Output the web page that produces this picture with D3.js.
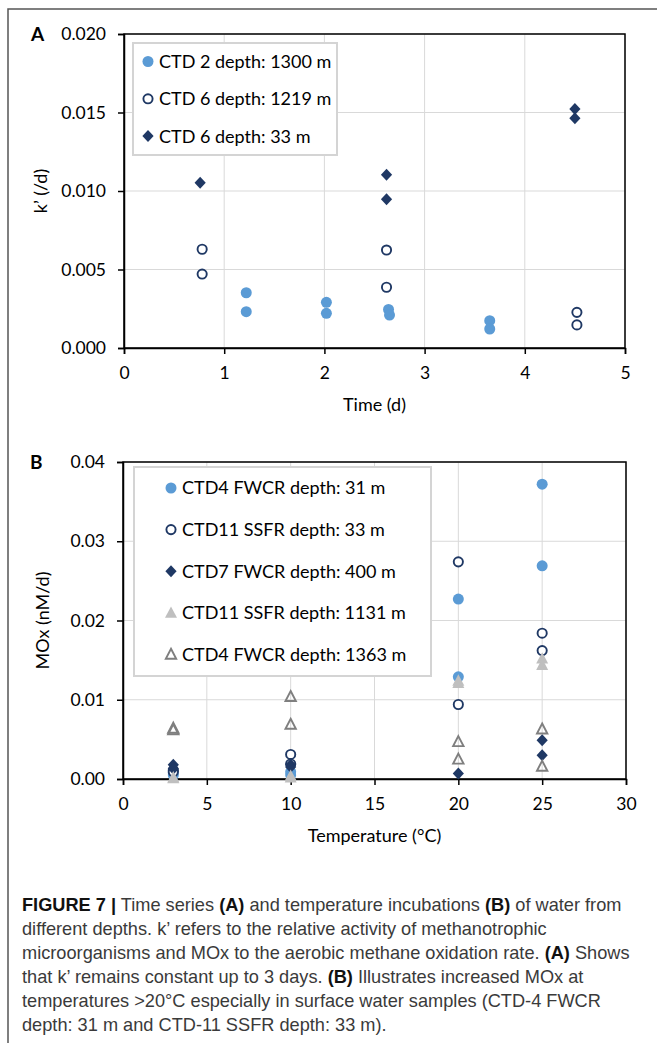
<!DOCTYPE html>
<html>
<head>
<meta charset="utf-8">
<script src="https://cdn.jsdelivr.net/npm/d3@7"></script>
<style>
  body { margin: 0; background: #fff; }
  svg text { font-family: Lato, "Open Sans", sans-serif; }
  .grid line { stroke: #d9d9d9; stroke-width: 1; }
  .axis path, .axis line { stroke: #000; }
  .axis text { font-size: 17.5px; fill: #000; }
  .cap { font-family: "Liberation Sans", Arial, sans-serif !important; font-size: 18.2px; fill: #3a3a3a; }
</style>
</head>
<body>
<svg id="fig" width="657" height="1043"></svg>
<script>
// panel A: time series (k')
var seriesA = ["CTD 2 depth: 1300 m", "CTD 6 depth: 1219 m", "CTD 6 depth: 33 m"];
var timeA1 = [1.22, 1.22, 2.02, 2.02, 2.64, 2.65, 3.65, 3.65];
var kA1    = [0.00352, 0.00231, 0.00291, 0.00221, 0.00246, 0.00210, 0.00174, 0.00121];
var timeA2 = [0.78, 0.78, 2.62, 2.62, 4.52, 4.52];
var kA2    = [0.00629, 0.00471, 0.00624, 0.00387, 0.00227, 0.00147];
var timeA3 = [0.76, 2.62, 2.62, 4.50, 4.50];
var kA3    = [0.01053, 0.01104, 0.00947, 0.01522, 0.01463];
var xTicksA = [0, 1, 2, 3, 4, 5];
var yTicksA = [0, 0.005, 0.010, 0.015, 0.020];

// panel B: temperature incubations (MOx)
var seriesB = ["CTD4 FWCR depth: 31 m", "CTD11 SSFR depth: 33 m", "CTD7 FWCR depth: 400 m",
               "CTD11 SSFR depth: 1131 m", "CTD4 FWCR depth: 1363 m"];
var tempB1 = [3, 3, 10, 10, 20, 20, 25, 25];
var moxB1  = [0.0005, 0.0008, 0.0005, 0.0009, 0.0227, 0.0129, 0.0372, 0.0269];
var tempB2 = [3, 3, 10, 10, 20, 20, 25, 25];
var moxB2  = [0.0011, 0.0009, 0.0031, 0.0019, 0.0274, 0.0094, 0.0184, 0.0162];
var tempB3 = [3, 3, 10, 10, 20, 25, 25];
var moxB3  = [0.0018, 0.0013, 0.0018, 0.0015, 0.0007, 0.0049, 0.0030];
var tempB4 = [3, 3, 10, 10, 20, 20, 25, 25];
var moxB4  = [0.0002, 0.0001, 0.0004, 0.0002, 0.0124, 0.0121, 0.0152, 0.0144];
var tempB5 = [3, 3, 10, 10, 20, 20, 25, 25];
var moxB5  = [0.0064, 0.0062, 0.0104, 0.0069, 0.0047, 0.0025, 0.0063, 0.0016];
var xTicksB = [0, 5, 10, 15, 20, 25, 30];
var yTicksB = [0, 0.01, 0.02, 0.03, 0.04];

var lightBlue = "#5b9bd5", navy = "#1f3864", ltGrey = "#bfbfbf", grey = "#7f7f7f";

var styleA = [
  { shape: "circle", fill: lightBlue, stroke: "none" },
  { shape: "circle", fill: "#fff", stroke: navy },
  { shape: "diamond", fill: navy, stroke: "none" }
];
var styleB = [
  { shape: "circle", fill: lightBlue, stroke: "none" },
  { shape: "circle", fill: "#fff", stroke: navy },
  { shape: "diamond", fill: navy, stroke: "none" },
  { shape: "triangle", fill: ltGrey, stroke: "none" },
  { shape: "triangle", fill: "none", stroke: grey }
];

function markerPath(shape, open) {
  if (shape == "diamond") return "M0,-6L5.6,0L0,6L-5.6,0Z";
  if (shape == "triangle") return open ? "M0,-5.6L5.2,4.4L-5.2,4.4Z" : "M0,-6.4L6,5L-6,5Z";
  var r = open ? 4.6 : 5.5;
  return "M" + r + ",0A" + r + "," + r + " 0 1,1 -" + r + ",0A" + r + "," + r + " 0 1,1 " + r + ",0Z";
}
function markerAttrs(sel, st) {
  var open = st.stroke != "none";
  sel.attr("d", markerPath(st.shape, open))
    .attr("fill", st.fill)
    .attr("stroke", st.stroke)
    .attr("stroke-width", open ? 1.9 : 0);
}

var svg = d3.select("#fig");

// outer frame
svg.append("path").attr("d", "M8,1043V9H657")
  .attr("fill", "none").attr("stroke", "#555").attr("stroke-width", 1.5);

function panel(opt) {
  var x = d3.scaleLinear().domain(opt.xDomain).range([opt.left, opt.right]);
  var y = d3.scaleLinear().domain(opt.yDomain).range([opt.bottom, opt.top]);
  var g = svg.append("g");

  var grid = g.append("g").attr("class", "grid");
  grid.selectAll(".gx").data(opt.xTicks).enter().append("line")
    .attr("x1", x).attr("x2", x).attr("y1", opt.top).attr("y2", opt.bottom);
  grid.selectAll(".gy").data(opt.yTicks).enter().append("line")
    .attr("x1", opt.left).attr("x2", opt.right).attr("y1", y).attr("y2", y);

  g.append("rect")
    .attr("x", opt.left).attr("y", opt.top)
    .attr("width", opt.right - opt.left).attr("height", opt.bottom - opt.top)
    .attr("fill", "none").attr("stroke", "#000").attr("stroke-width", 1.5);

  var ax = g.append("g").attr("class", "axis")
    .attr("transform", "translate(0," + opt.bottom + ")")
    .call(d3.axisBottom(x).tickValues(opt.xTicks).tickSize(6).tickPadding(13).tickFormat(d3.format("d")));
  var ay = g.append("g").attr("class", "axis")
    .attr("transform", "translate(" + opt.left + ",0)")
    .call(d3.axisLeft(y).tickValues(opt.yTicks).tickSize(6).tickPadding(12).tickFormat(d3.format(opt.yFmt)));
  [ax, ay].forEach(function(a) {
    a.select(".domain").attr("stroke-width", 1.5);
    a.selectAll(".tick line").attr("stroke-width", 1.5);
    a.selectAll("text").attr("font-family", "Lato, 'Open Sans', sans-serif");
  });

  // series
  opt.series.forEach(function(s, i) {
    var pts = s.xs.map(function(v, j) { return [v, s.ys[j]]; });
    g.append("g").selectAll("path").data(pts).enter().append("path")
      .attr("transform", function(d) { return "translate(" + x(d[0]) + "," + y(d[1]) + ")"; })
      .call(markerAttrs, opt.styles[i]);
  });

  // legend
  var lg = g.append("g");
  lg.append("rect")
    .attr("x", opt.legend.x).attr("y", opt.legend.y)
    .attr("width", opt.legend.w).attr("height", opt.legend.h)
    .attr("fill", "#fff").attr("stroke", "#d4d4d4").attr("stroke-width", 2);
  opt.names.forEach(function(name, i) {
    var cy = opt.legend.y0 + i * opt.legend.step;
    lg.append("path")
      .attr("transform", "translate(" + opt.legend.mx + "," + cy + ")")
      .call(markerAttrs, opt.styles[i]);
    lg.append("text")
      .attr("x", opt.legend.mx + 11).attr("y", cy).attr("dy", "0.36em")
      .attr("font-size", "18px").attr("fill", "#000")
      .text(name);
  });

  // axis titles
  g.append("text")
    .attr("x", (opt.left + opt.right) / 2).attr("y", opt.xTitleY)
    .attr("text-anchor", "middle").attr("font-size", "18px")
    .text(opt.xTitle);
  g.append("text")
    .attr("transform", "translate(" + opt.yTitleX + "," + ((opt.top + opt.bottom) / 2) + ") rotate(-90)")
    .attr("text-anchor", "middle").attr("font-size", "18px")
    .text(opt.yTitle);

  // panel letter
  g.append("text")
    .attr("x", opt.labelX).attr("y", opt.top + 7)
    .attr("font-family", "'Liberation Sans', Arial, sans-serif")
    .attr("font-weight", "bold").attr("font-size", "19px")
    .text(opt.label);
}

panel({
  label: "A", labelX: 31,
  left: 124, right: 625, top: 34, bottom: 348,
  xDomain: [0, 5], yDomain: [0, 0.02],
  xTicks: xTicksA, yTicks: yTicksA, yFmt: ".3f",
  xTitle: "Time (d)", xTitleY: 411, yTitle: "k\u2019 (/d)", yTitleX: 47,
  names: seriesA, styles: styleA,
  series: [
    { xs: timeA1, ys: kA1 },
    { xs: timeA2, ys: kA2 },
    { xs: timeA3, ys: kA3 }
  ],
  legend: { x: 133, y: 43, w: 204, h: 112, mx: 148, y0: 61.5, step: 37.3 }
});

panel({
  label: "B", labelX: 30,
  left: 123, right: 626, top: 462, bottom: 779,
  xDomain: [0, 30], yDomain: [0, 0.04],
  xTicks: xTicksB, yTicks: yTicksB, yFmt: ".2f",
  xTitle: "Temperature (\u00b0C)", xTitleY: 842, yTitle: "MOx (nM/d)", yTitleX: 49,
  names: seriesB, styles: styleB,
  series: [
    { xs: tempB1, ys: moxB1 },
    { xs: tempB2, ys: moxB2 },
    { xs: tempB3, ys: moxB3 },
    { xs: tempB4, ys: moxB4 },
    { xs: tempB5, ys: moxB5 }
  ],
  legend: { x: 134, y: 467, w: 297, h: 209, mx: 171, y0: 488, step: 41.6 }
});

// caption
var caption = [
  [["FIGURE 7 |", true], [" Time series ", false], ["(A)", true], [" and temperature incubations ", false], ["(B)", true], [" of water from", false]],
  [["different depths. k\u2019 refers to the relative activity of methanotrophic", false]],
  [["microorganisms and MOx to the aerobic methane oxidation rate. ", false], ["(A)", true], [" Shows", false]],
  [["that k\u2019 remains constant up to 3 days. ", false], ["(B)", true], [" Illustrates increased MOx at", false]],
  [["temperatures >20\u00b0C especially in surface water samples (CTD-4 FWCR", false]],
  [["depth: 31 m and CTD-11 SSFR depth: 33 m).", false]]
];
caption.forEach(function(line, i) {
  var t = svg.append("text").attr("class", "cap")
    .attr("x", 22).attr("y", 905 + i * 24).attr("dy", "0.35em");
  line.forEach(function(p) {
    t.append("tspan").attr("font-weight", p[1] ? "bold" : "normal")
      .attr("fill", p[1] ? "#111" : "#3a3a3a").text(p[0]);
  });
});
</script>
</body>
</html>
